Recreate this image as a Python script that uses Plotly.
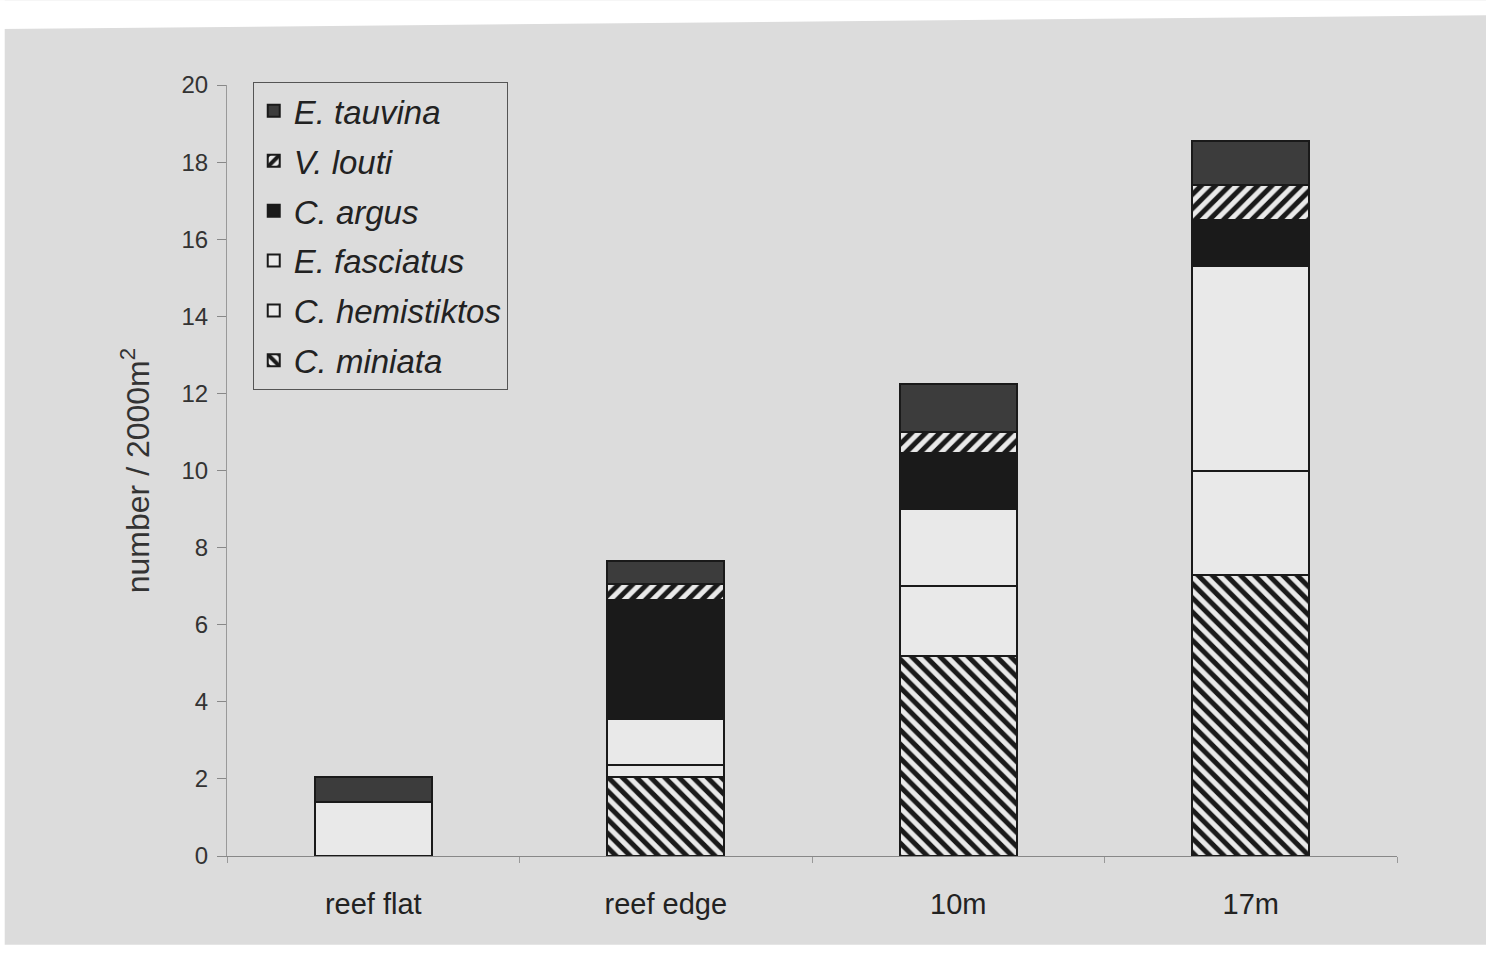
import plotly.graph_objects as go

# Sites along the reef profile
sites = ["reef flat", "reef edge", "10m", "17m"]

# Density per species (number / 2000 m²), stacked bottom to top
c_miniata = [0.0, 2.05, 5.2, 7.3]
c_hemistiktos = [1.4, 0.3, 1.8, 2.7]
e_fasciatus = [0.0, 1.2, 2.0, 5.3]
c_argus = [0.0, 3.1, 1.45, 1.2]
v_louti = [0.0, 0.4, 0.55, 0.9]
e_tauvina = [0.65, 0.6, 1.25, 1.15]

y_ticks = [0, 2, 4, 6, 8, 10, 12, 14, 16, 18, 20]

BG = "#dcdcdc"
LIGHT = "#e9e9e9"
INK = "#1a1a1a"

series = [
    ("C. miniata", c_miniata, dict(fillmode="replace", shape="\\", bgcolor=LIGHT, fgcolor=INK, size=10, solidity=0.5)),
    ("C. hemistiktos", c_hemistiktos, None),
    ("E. fasciatus", e_fasciatus, None),
    ("C. argus", c_argus, None),
    ("V. louti", v_louti, dict(fillmode="replace", shape="/", bgcolor=LIGHT, fgcolor=INK, size=10, solidity=0.5)),
    ("E. tauvina", e_tauvina, None),
]
fills = {
    "C. miniata": LIGHT,
    "C. hemistiktos": LIGHT,
    "E. fasciatus": LIGHT,
    "C. argus": INK,
    "V. louti": LIGHT,
    "E. tauvina": "#3c3c3c",
}

fig = go.Figure()
for i, (name, vals, pat) in enumerate(series):
    marker = dict(color=fills[name], line=dict(color=INK, width=2))
    if pat:
        marker["pattern"] = pat
    fig.add_trace(go.Bar(
        x=sites, y=vals, name="<i>" + name + "</i>",
        legendgroup=name,
        legendrank=1000 - i,  # top of the stack listed first
        marker=marker, width=0.4,
    ))

fig.update_layout(
    barmode="stack",
    width=1486, height=953,
    margin=dict(l=227, r=89, t=85, b=97),
    paper_bgcolor=BG,
    plot_bgcolor=BG,
    font=dict(family="Liberation Sans, Arial, sans-serif", color="#333333"),
    showlegend=True,
    legend=dict(
        x=0.022, y=1.004, xanchor="left", yanchor="top",
        traceorder="grouped",
        tracegroupgap=4,
        bgcolor=BG, bordercolor="#555555", borderwidth=1,
        font=dict(size=33, color="#222222"),
        itemwidth=30,
    ),
    xaxis=dict(
        range=[-0.5, 3.5],
        showline=True, linecolor="#888888", linewidth=1,
        ticks="outside", tickson="boundaries", ticklen=6, tickcolor="#999999",
        tickfont=dict(size=29, color="#222222"),
        ticklabelstandoff=22,
        showgrid=False,
    ),
    yaxis=dict(
        range=[0, 20], tickvals=y_ticks,
        showline=True, linecolor="#999999", linewidth=1,
        ticks="outside", ticklen=9, tickcolor="#888888",
        tickfont=dict(size=24, color="#333333"),
        ticklabelstandoff=4,
        showgrid=False, zeroline=False,
        title=dict(text="number / 2000m<sup>2</sup>", font=dict(size=32, color="#333333"), standoff=22),
    ),
    shapes=[
        # white scan border around the page
        dict(type="path", xref="paper", yref="paper",
             path="M -0.2,1.11 L 1.08,1.11 L 1.08,1.0906 L -0.2,1.0725 Z",
             fillcolor="white", line=dict(width=0), layer="above"),
        dict(type="rect", xref="paper", yref="paper",
             x0=-0.2, x1=-0.19, y0=-0.126, y1=1.11,
             fillcolor="white", line=dict(width=0), layer="above"),
        dict(type="rect", xref="paper", yref="paper",
             x0=-0.2, x1=1.08, y0=-0.126, y1=-0.115,
             fillcolor="white", line=dict(width=0), layer="above"),
    ],
)

fig.write_html("out.html")
